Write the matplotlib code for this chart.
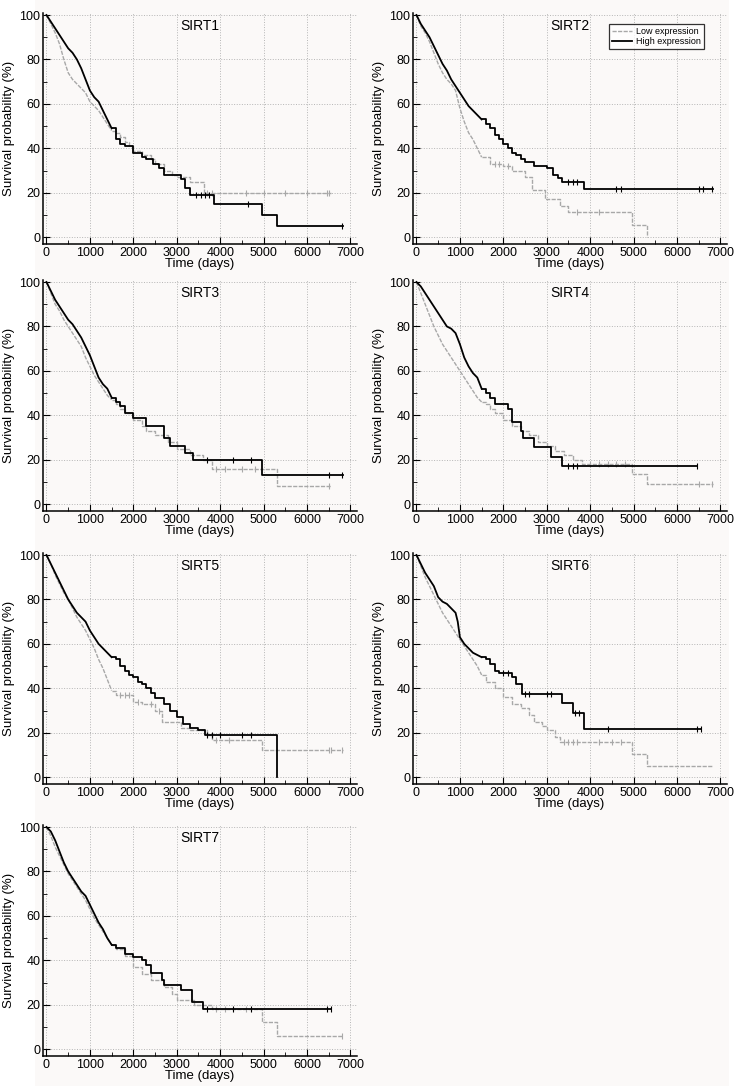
import numpy as np
import matplotlib
matplotlib.use("Agg")
import matplotlib.pyplot as plt
from matplotlib.patches import Rectangle
from matplotlib.ticker import MultipleLocator

plt.rcParams["font.family"] = ["Liberation Sans", "DejaVu Sans"]

# Kaplan-Meier curves (time in days, survival in %)
sirt1_high_t = [0, 100, 200, 300, 400, 500, 600, 700, 800, 900, 1000, 1100, 1200, 1300, 1400, 1500, 1600, 1700, 1800, 2000, 2200, 2300, 2450, 2600, 2700, 3100, 3200, 3300, 3850, 4970, 5300, 6820]
sirt1_high_s = [100, 97, 94, 91, 88, 85, 83, 80, 76, 71, 66, 63, 61, 57, 53, 49, 44, 42, 41, 38, 36, 35, 33, 31, 28, 26, 22, 19, 15, 10, 5, 5]
sirt1_high_c = [3450, 3550, 3650, 3750, 4650, 6800]
sirt1_low_t = [0, 100, 200, 300, 400, 500, 600, 700, 800, 900, 1000, 1100, 1200, 1300, 1400, 1500, 1600, 1700, 1800, 1900, 2000, 2200, 2400, 2500, 2700, 2900, 3000, 3300, 3620, 6550]
sirt1_low_s = [100, 96, 92, 87, 80, 74, 71, 69, 67, 65, 61, 59, 57, 54, 51, 48, 47, 45, 43, 41, 39, 37, 35, 33, 30, 28, 27, 25, 20, 20]
sirt1_low_c = [3700, 3800, 4600, 5000, 5500, 6000, 6450, 6500]

sirt2_high_t = [0, 100, 200, 300, 400, 500, 600, 700, 800, 900, 1000, 1100, 1200, 1300, 1400, 1500, 1600, 1700, 1800, 1900, 2000, 2100, 2200, 2300, 2400, 2500, 2700, 3000, 3150, 3250, 3350, 3850, 6820]
sirt2_high_s = [100, 96, 93, 90, 86, 82, 78, 75, 71, 68, 65, 62, 59, 57, 55, 53, 51, 49, 46, 44, 42, 40, 38, 37, 35, 34, 32, 31, 28, 26.5, 25, 21.6, 21.6]
sirt2_high_c = [3500, 3600, 3700, 4600, 4700, 6500, 6600, 6800]
sirt2_low_t = [0, 100, 200, 300, 400, 500, 600, 700, 800, 900, 1000, 1100, 1200, 1300, 1400, 1500, 1700, 2000, 2200, 2500, 2650, 2950, 3300, 3500, 4970, 5300]
sirt2_low_s = [100, 95, 92, 88, 83, 78, 74, 71, 69, 66, 58, 52, 47, 44, 40, 36, 33, 32, 30, 27, 21, 17, 14, 11.5, 5.5, 0]
sirt2_low_c = [1800, 1900, 2100, 3700, 4200]

sirt3_high_t = [0, 100, 200, 300, 400, 500, 600, 700, 800, 900, 1000, 1100, 1200, 1300, 1400, 1500, 1600, 1700, 1800, 2000, 2300, 2700, 2850, 3200, 3380, 4970, 6820]
sirt3_high_s = [100, 96, 92, 89, 86, 83, 81, 78, 75, 71, 67, 62, 57, 54, 52, 48, 46, 44, 41, 39, 35, 30, 26, 23, 20, 13.3, 13.3]
sirt3_high_c = [3700, 4300, 4700, 6500, 6800]
sirt3_low_t = [0, 100, 200, 300, 400, 500, 600, 700, 800, 900, 1000, 1100, 1200, 1300, 1400, 1500, 1600, 1700, 1800, 2000, 2200, 2300, 2500, 2800, 3000, 3300, 3600, 3800, 5300, 6550]
sirt3_low_s = [100, 95, 90, 87, 83, 80, 77, 74, 71, 66, 62, 58, 55, 52, 49, 47, 45, 43, 41, 38, 35, 33, 31, 28, 25, 22, 20, 16, 8, 8]
sirt3_low_c = [3900, 4100, 4500, 4800, 6500]

sirt4_high_t = [0, 100, 200, 300, 400, 500, 600, 700, 800, 900, 1000, 1100, 1200, 1300, 1400, 1500, 1600, 1700, 1800, 2100, 2200, 2400, 2450, 2700, 3100, 3350, 6450]
sirt4_high_s = [100, 98, 95, 92, 89, 86, 83, 80, 79, 77, 72, 66, 62, 59, 57, 52, 50, 48, 45, 43, 37, 33, 30, 25.5, 21, 17, 17]
sirt4_high_c = [3500, 3600, 3700, 6450]
sirt4_low_t = [0, 100, 200, 300, 400, 500, 600, 700, 800, 900, 1000, 1100, 1200, 1300, 1400, 1500, 1600, 1700, 1800, 2000, 2200, 2400, 2600, 2800, 3000, 3200, 3400, 3600, 3800, 4970, 5300, 6820]
sirt4_low_s = [100, 95, 90, 85, 80, 76, 72, 69, 66, 63, 60, 57, 54, 51, 48, 46, 45, 43, 41, 38, 35, 33, 31, 28, 26, 24, 22, 20, 18, 13.5, 9, 9]
sirt4_low_c = [4000, 4200, 4400, 4600, 4800, 6500, 6800]

sirt5_high_t = [0, 100, 200, 300, 400, 500, 600, 700, 800, 900, 1000, 1100, 1200, 1300, 1400, 1500, 1600, 1700, 1800, 1900, 2000, 2100, 2200, 2300, 2400, 2500, 2700, 2850, 3000, 3150, 3300, 3500, 3650, 5310]
sirt5_high_s = [100, 96, 92, 88, 84, 80, 77, 74, 72, 70, 66, 63, 60, 58, 56, 54, 53, 50, 48, 46, 45, 43, 42, 40, 38, 35.5, 33, 30, 27, 24, 22, 21, 19, 0]
sirt5_high_c = [3700, 3800, 4000, 4500, 4700]
sirt5_low_t = [0, 100, 200, 300, 400, 500, 600, 700, 800, 900, 1000, 1100, 1200, 1300, 1400, 1500, 1600, 2000, 2200, 2500, 2650, 3000, 3100, 3300, 3700, 3800, 4970, 6820]
sirt5_low_s = [100, 96, 91, 87, 83, 80, 76, 72, 69, 66, 62, 58, 53, 49, 44, 39, 37, 34, 33, 30, 25, 25, 22, 21, 19, 16.5, 12.3, 12.3]
sirt5_low_c = [1700, 1800, 1900, 2100, 2400, 2600, 3900, 4200, 6500, 6550, 6800]

sirt6_high_t = [0, 100, 200, 300, 400, 500, 600, 700, 800, 900, 950, 1000, 1100, 1200, 1300, 1400, 1500, 1600, 1700, 1800, 1900, 2200, 2300, 2430, 3350, 3600, 3850, 6550]
sirt6_high_s = [100, 96, 92, 89, 86, 81, 79, 78, 76, 74, 70, 63, 60, 58, 56, 55, 54, 53, 51, 48, 47, 45, 42, 37.5, 33.5, 29, 21.5, 21.5]
sirt6_high_c = [2000, 2100, 2500, 2600, 3000, 3100, 3650, 3750, 4400, 6450, 6550]
sirt6_low_t = [0, 100, 200, 300, 400, 500, 600, 700, 800, 900, 1000, 1100, 1200, 1300, 1400, 1500, 1600, 1800, 2000, 2200, 2400, 2600, 2700, 2900, 3000, 3200, 3300, 4970, 5300, 6820]
sirt6_low_s = [100, 95, 90, 86, 82, 78, 74, 71, 68, 65, 62, 59, 56, 53, 50, 46, 43, 40, 36, 33, 31, 28, 25, 23, 21, 18, 16, 10.5, 4.8, 4.8]
sirt6_low_c = [3400, 3500, 3600, 3700, 4200, 4500, 4700]

sirt7_high_t = [0, 100, 200, 300, 400, 500, 600, 700, 800, 900, 1000, 1100, 1200, 1300, 1400, 1500, 1600, 1800, 2000, 2200, 2300, 2400, 2650, 2700, 3100, 3350, 3600, 6550]
sirt7_high_s = [100, 98, 94, 89, 84, 80, 77, 74, 71, 69, 65, 61, 57, 54, 50, 47, 45.5, 43, 41.5, 40, 38, 34.5, 31, 29, 26.5, 21, 18, 18]
sirt7_high_c = [3700, 4300, 4700, 6450, 6550]
sirt7_low_t = [0, 100, 200, 300, 400, 500, 600, 700, 800, 900, 1000, 1100, 1200, 1300, 1400, 1500, 1600, 1800, 2000, 2200, 2400, 2700, 2900, 3000, 3400, 3800, 4970, 5300, 6820]
sirt7_low_s = [100, 96, 91, 87, 83, 79, 76, 73, 70, 67, 63, 59, 56, 53, 50, 47, 45, 42, 37, 34, 31, 28, 25, 22, 20, 18, 12, 6, 6]
sirt7_low_c = [3900, 4100, 4600, 6800]

genes = ["SIRT1", "SIRT2", "SIRT3", "SIRT4", "SIRT5", "SIRT6", "SIRT7"]
curves = [
    (sirt1_low_t, sirt1_low_s, sirt1_low_c, sirt1_high_t, sirt1_high_s, sirt1_high_c),
    (sirt2_low_t, sirt2_low_s, sirt2_low_c, sirt2_high_t, sirt2_high_s, sirt2_high_c),
    (sirt3_low_t, sirt3_low_s, sirt3_low_c, sirt3_high_t, sirt3_high_s, sirt3_high_c),
    (sirt4_low_t, sirt4_low_s, sirt4_low_c, sirt4_high_t, sirt4_high_s, sirt4_high_c),
    (sirt5_low_t, sirt5_low_s, sirt5_low_c, sirt5_high_t, sirt5_high_s, sirt5_high_c),
    (sirt6_low_t, sirt6_low_s, sirt6_low_c, sirt6_high_t, sirt6_high_s, sirt6_high_c),
    (sirt7_low_t, sirt7_low_s, sirt7_low_c, sirt7_high_t, sirt7_high_s, sirt7_high_c),
]

# early part of each curve has many tiny steps: draw it as a plain line
DENSE_END = 1500

W, H = 736, 1086
BG = "#fbf9f8"
fig = plt.figure(figsize=(W / 100, H / 100), dpi=100, facecolor="white")
# off-white panel behind the plots, thin white strips at the sides
fig.patches.append(Rectangle((35 / W, 0), (729 - 35) / W, 1, transform=fig.transFigure,
                             facecolor=BG, edgecolor="none", zorder=-10))

col_left = [43, 413]
row_top = [12.8, 279.8, 552.8, 824.8]
ax_w, ax_h = 314, 231

LOW_COLOR = "#a8a8a8"
HIGH_COLOR = "black"


def draw_km(ax, t, s, c, **kw):
    t = np.asarray(t, dtype=float)
    s = np.asarray(s, dtype=float)
    k = np.searchsorted(t, DENSE_END, side="right")
    line = ax.plot(t[:k], s[:k], **kw)[0]
    kw.pop("label", None)
    ax.step(t[k - 1:], s[k - 1:], where="post", **kw)
    idx = np.searchsorted(t, np.asarray(c), side="right") - 1
    ax.plot(c, s[idx], linestyle="none", marker="|", ms=4, mew=0.8,
            color=kw["color"], zorder=kw["zorder"])
    return line


for i, (gene, (lt, ls, lc, ht, hs, hc)) in enumerate(zip(genes, curves)):
    r, col = divmod(i, 2)
    ax = fig.add_axes([col_left[col] / W, 1 - (row_top[r] + ax_h) / H, ax_w / W, ax_h / H])
    ax.set_facecolor(BG)

    draw_km(ax, lt, ls, lc, color=LOW_COLOR, lw=1.0, linestyle=(0, (3, 1)),
            label="Low expression", zorder=3)
    draw_km(ax, ht, hs, hc, color=HIGH_COLOR, lw=1.3,
            label="High expression", zorder=4)

    ax.set_xlim(-80, 7150)
    ax.set_ylim(-3, 101)
    ax.set_xticks(range(0, 7001, 1000))
    ax.set_yticks(range(0, 101, 20))
    ax.xaxis.set_minor_locator(MultipleLocator(500))
    ax.yaxis.set_minor_locator(MultipleLocator(10))
    ax.tick_params(which="major", direction="in", length=5, width=0.8,
                   labelsize=9, pad=2)
    ax.tick_params(which="minor", direction="in", length=3, width=0.6)
    ax.grid(True, which="major", color="#b5b5b5", linestyle=":", linewidth=0.7)
    ax.set_axisbelow(True)
    for side in ["top", "right"]:
        ax.spines[side].set_visible(False)
    for side in ["left", "bottom"]:
        ax.spines[side].set_linewidth(1.1)

    ax.set_xlabel("Time (days)", fontsize=9.5)
    ax.set_ylabel("Survival probability (%)", fontsize=9.5)
    ax.xaxis.set_label_coords(0.5, -0.063)
    ax.yaxis.set_label_coords(-0.088, 0.5)
    ax.text(0.5, 0.945, gene, transform=ax.transAxes, ha="center", va="center",
            fontsize=10)

    if gene == "SIRT2":
        leg = ax.legend(loc="upper right", bbox_to_anchor=(0.94, 0.97), fontsize=6.5,
                        frameon=True, fancybox=False, edgecolor="black",
                        handlelength=2.2, borderpad=0.3, labelspacing=0.1,
                        handletextpad=0.5)
        leg.get_frame().set_linewidth(0.9)
        leg.get_frame().set_facecolor("white")

fig.savefig("out.png", dpi=100, facecolor=fig.get_facecolor())
